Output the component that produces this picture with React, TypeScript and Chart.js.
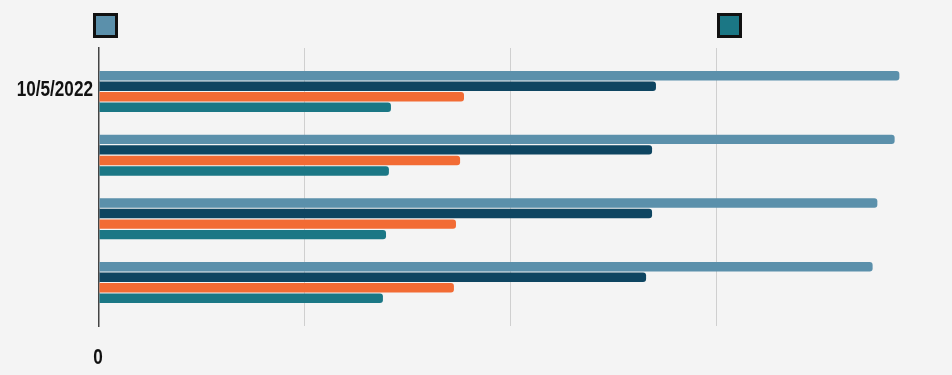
import React, { useEffect, useRef } from "react";
import { Chart, registerables } from "chart.js";

Chart.register(...registerables);

// ---- data ----
const categories: string[] = ["10/5/2022", "", "", ""];
const series1: number[] = [3890, 3867, 3783, 3760];
const series2: number[] = [2707, 2688, 2688, 2659];
const series3: number[] = [1774, 1755, 1735, 1725];
const series4: number[] = [1419, 1409, 1395, 1380];
const xTickValues: number[] = [0, 1000, 2000, 3000];
const xTickLabels: string[] = ["0", "", "", ""];

const colors = ["#5b90ab", "#0e4561", "#f26b34", "#1b7785"];
const FONT = "bold 22px 'Liberation Sans', Arial, sans-serif";
const SQUEEZE = 0.78; // condensed look of the label face

const legendBoxes = {
  id: "legendBoxes",
  afterDraw(chart: any) {
    const ctx = chart.ctx;
    const items = [
      { ds: 0, x: 93 },
      { ds: 3, x: 717 },
    ];
    ctx.save();
    for (const it of items) {
      ctx.fillStyle = chart.data.datasets[it.ds].backgroundColor;
      ctx.fillRect(it.x + 1.5, 14.5, 22, 22);
      ctx.lineWidth = 3;
      ctx.strokeStyle = "#111";
      ctx.strokeRect(it.x + 1.5, 14.5, 22, 22);
    }
    ctx.restore();
  },
};

// tick labels in a condensed face
const condensedTicks = {
  id: "condensedTicks",
  afterDraw(chart: any) {
    const ctx = chart.ctx;
    const xs = chart.scales.x;
    const ys = chart.scales.y;
    ctx.save();
    ctx.font = FONT;
    ctx.fillStyle = "#111";
    ctx.textBaseline = "middle";
    categories.forEach((lab, i) => {
      if (!lab) return;
      ctx.save();
      ctx.translate(ys.right - 6, ys.getPixelForValue(i) - 1.5);
      ctx.scale(SQUEEZE, 1);
      ctx.textAlign = "right";
      ctx.fillText(lab, 0, 0);
      ctx.restore();
    });
    xTickValues.forEach((v, i) => {
      const lab = xTickLabels[i];
      if (!lab) return;
      ctx.save();
      ctx.translate(xs.getPixelForValue(v) - 1, xs.top + 32);
      ctx.scale(SQUEEZE, 1);
      ctx.textAlign = "center";
      ctx.fillText(lab, 0, 0);
      ctx.restore();
    });
    ctx.restore();
  },
};

export default function App() {
  const ref = useRef<HTMLCanvasElement>(null);
  useEffect(() => {
    document.body.style.margin = "0";
    document.body.style.background = "#f4f4f4";
    const mk = (vals: number[]) => vals.map((v, i) => ({ x: v, y: i }));
    const seriesList = [series1, series2, series3, series4];
    const chart = new Chart(ref.current!, {
      type: "bar",
      data: {
        datasets: seriesList.map((s, i) => ({
          label: "",
          data: mk(s),
          backgroundColor: colors[i],
          borderWidth: 0,
          borderRadius: 3,
          categoryPercentage: 0.66,
          barPercentage: 0.9,
        })),
      },
      options: {
        indexAxis: "y",
        animation: false,
        responsive: false,
        maintainAspectRatio: false,
        layout: { padding: { top: 48, right: 30, left: 0, bottom: 0 } },
        plugins: { legend: { display: false }, tooltip: { enabled: false } },
        scales: {
          x: {
            type: "linear",
            min: 0,
            max: 4000,
            afterBuildTicks: (s: any) => {
              s.ticks = xTickValues.map((v) => ({ value: v }));
            },
            afterFit: (s: any) => {
              s.height = 49;
            },
            grid: {
              drawTicks: false,
              color: (c: any) => (c.tick && c.tick.value === 0 ? "transparent" : "#cfcfcf"),
              lineWidth: 1,
            },
            border: { display: false },
            ticks: { display: false },
          },
          y: {
            type: "linear",
            reverse: true,
            offset: false,
            min: -0.682,
            max: categories.length - 1 + 0.682,
            afterBuildTicks: (s: any) => {
              s.ticks = categories.map((_, i) => ({ value: i }));
            },
            afterFit: (s: any) => {
              s.width = 99;
            },
            grid: { display: false, drawTicks: false },
            border: { display: true, color: "#444", width: 1.5 },
            ticks: { display: false },
          },
        },
      },
      plugins: [legendBoxes, condensedTicks],
    } as any);
    return () => chart.destroy();
  }, []);
  return (
    <div style={{ width: 952, height: 375, background: "#f4f4f4" }}>
      <canvas ref={ref} width={952} height={375} style={{ display: "block" }} />
    </div>
  );
}
